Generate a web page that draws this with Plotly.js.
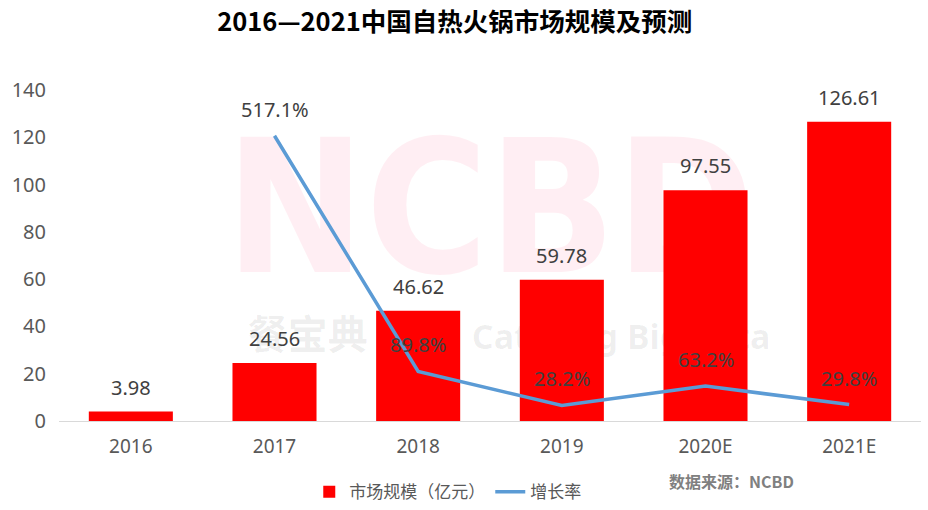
<!DOCTYPE html>
<html>
<head>
<meta charset="utf-8">
<script src="https://cdn.plot.ly/plotly-3.0.1.min.js"></script>
<style>html,body{margin:0;padding:0;background:#fff;}#chart{width:928px;height:510px;}</style>
</head>
<body>
<div id="chart"></div>
<script>
const categories = ["2016", "2017", "2018", "2019", "2020E", "2021E"];
const marketSize = [3.98, 24.56, 46.62, 59.78, 97.55, 126.61];
const growthCategories = ["2017", "2018", "2019", "2020E", "2021E"];
const growthRate = [517.1, 89.8, 28.2, 63.2, 29.8];
const sizeName = "市场规模（亿元）";
const rateName = "增长率";
const yTicks = [0, 20, 40, 60, 80, 100, 120, 140];

const FONT = "'Noto Sans', 'Noto Sans CJK SC', sans-serif";

const traces = [
  {
    type: "bar", x: categories, y: marketSize, name: sizeName,
    marker: {color: "#ff0000"}, hoverinfo: "skip"
  },
  {
    type: "scatter", mode: "lines", x: growthCategories, y: growthRate, name: rateName,
    yaxis: "y2", line: {color: "#5b9bd5", width: 3.5}, hoverinfo: "skip"
  }
];

// watermark drawn as shape labels beneath the traces
const shapes = [
  {
    type: "rect", xref: "paper", yref: "paper", x0: 0.1, x1: 0.9, y0: 0.52, y1: 0.85,
    layer: "below", line: {width: 0}, fillcolor: "rgba(0,0,0,0)",
    label: {text: "<b>NCBD</b>", textposition: "middle center",
      font: {family: "'DejaVu Sans Condensed', 'DejaVu Sans', sans-serif", size: 186, color: "rgba(255,0,70,0.065)"}}
  },
  {
    type: "rect", xref: "paper", yref: "paper", x0: 0.212, x1: 0.45, y0: 0.2, y1: 0.3,
    layer: "below", line: {width: 0}, fillcolor: "rgba(0,0,0,0)",
    label: {text: "<b>餐宝典</b>", textposition: "middle left",
      font: {family: "'Noto Sans CJK SC', sans-serif", size: 40, color: "rgba(0,0,0,0.065)"}}
  },
  {
    type: "rect", xref: "paper", yref: "paper", x0: 0.472, x1: 0.95, y0: 0.2, y1: 0.3,
    layer: "below", line: {width: 0}, fillcolor: "rgba(0,0,0,0)",
    label: {text: "<b>Catering Big Data</b>", textposition: "middle left",
      font: {family: "'Noto Sans', sans-serif", size: 34, color: "rgba(0,0,0,0.065)"}}
  }
];

const annotations = [];
marketSize.forEach((v, i) => {
  annotations.push({
    x: categories.indexOf(categories[i]), y: v, xref: "x", yref: "y", yanchor: "bottom", yshift: 9,
    text: v.toFixed(2), showarrow: false,
    font: {family: FONT, size: 20, color: "#404040"}
  });
});
growthRate.forEach((v, i) => {
  annotations.push({
    x: categories.indexOf(growthCategories[i]), y: v, xref: "x", yref: "y2", yanchor: "bottom", yshift: 11,
    text: v.toFixed(1) + "%", showarrow: false,
    font: {family: FONT, size: 20, color: "#404040"}
  });
});
annotations.push({
  xref: "paper", yref: "paper", x: 0.855, y: -0.18, xanchor: "right", yanchor: "middle",
  text: "<b>数据来源：NCBD</b>", showarrow: false,
  font: {family: "'Noto Sans CJK SC', sans-serif", size: 16, color: "#808080"}
});

const layout = {
  width: 928, height: 510,
  margin: {l: 59, r: 7, t: 90, b: 89, autoexpand: false},
  paper_bgcolor: "#ffffff", plot_bgcolor: "rgba(0,0,0,0)",
  title: {
    text: "<b>2016—2021中国自热火锅市场规模及预测</b>",
    font: {family: "'Noto Sans CJK SC', sans-serif", size: 25.5, color: "#000000"},
    x: 0.49, xanchor: "center", y: 0.957, yanchor: "middle"
  },
  font: {family: FONT, color: "#595959"},
  bargap: 0.415,
  showlegend: true,
  legend: {
    orientation: "h", x: 0.451, xanchor: "center", y: -0.215, yanchor: "middle",
    font: {family: FONT, size: 17, color: "#595959"}, itemwidth: 30
  },
  xaxis: {
    type: "category", categoryorder: "array", categoryarray: categories,
    range: [-0.5, categories.length - 0.5], autorange: false,
    showline: true, linecolor: "#d9d9d9", linewidth: 1, ticks: "",
    tickfont: {family: FONT, size: 19, color: "#595959"},
    ticklabelstandoff: 8,
    showgrid: false, fixedrange: true
  },
  yaxis: {
    range: [0, 140], autorange: false, tickvals: yTicks, showgrid: false, zeroline: false,
    ticks: "", tickfont: {family: FONT, size: 20, color: "#595959"},
    ticklabelstandoff: 12, fixedrange: true
  },
  yaxis2: {
    overlaying: "y", side: "right", range: [0, 600], autorange: false, visible: false, fixedrange: true
  },
  shapes: shapes,
  annotations: annotations
};

Plotly.newPlot("chart", traces, layout, {displayModeBar: false, staticPlot: true});
</script>
</body>
</html>
